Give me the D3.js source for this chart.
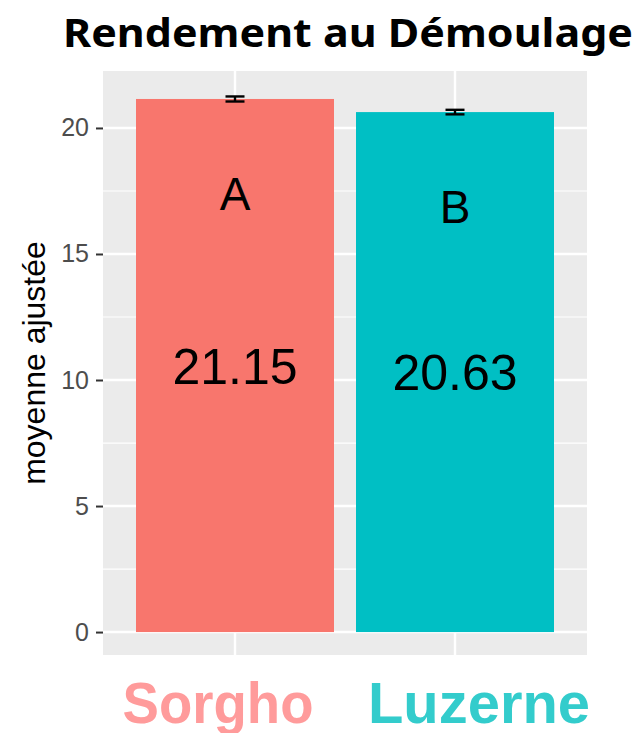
<!DOCTYPE html>
<html>
<head>
<meta charset="utf-8">
<script src="https://cdn.jsdelivr.net/npm/d3@7"></script>
<style>
  body { margin: 0; background: #fff; }
  svg text { font-family: "Liberation Sans", Arial, sans-serif; }
</style>
</head>
<body>
<div id="chart"></div>
<script>
// data
const categories = ["Sorgho", "Luzerne"];
const means = [21.15, 20.63];
const errors = [0.1, 0.09];
const groupLetters = ["A", "B"];
const yTicks = [0, 5, 10, 15, 20];
const yMinorTicks = [2.5, 7.5, 12.5, 17.5];
const barColors = ["#F8766D", "#00BFC4"];
const labelColors = ["#FF9B9B", "#33CCCC"];

const width = 641, height = 733;
const panel = { left: 103, right: 587, top: 71, bottom: 655 };

const svg = d3.select("#chart").append("svg")
    .attr("width", width)
    .attr("height", height);

// scales (ggplot-like expansion)
const y = d3.scaleLinear()
    .domain([-0.91, 22.26])
    .range([panel.bottom, panel.top]);

// discrete x: 0.6 expansion on both sides
const x = d3.scaleLinear()
    .domain([0.4, 2.6])
    .range([panel.left, panel.right]);
const cx = i => x(i + 1);
const barW = x(1.9) - x(1);

// panel background
svg.append("rect")
    .attr("x", panel.left)
    .attr("y", panel.top)
    .attr("width", panel.right - panel.left)
    .attr("height", panel.bottom - panel.top)
    .attr("fill", "#EBEBEB");

// grid
svg.selectAll(".minor")
    .data(yMinorTicks)
    .enter().append("line")
    .attr("x1", panel.left).attr("x2", panel.right)
    .attr("y1", d => y(d)).attr("y2", d => y(d))
    .attr("stroke", "#fff").attr("stroke-width", 1.2);

svg.selectAll(".major")
    .data(yTicks)
    .enter().append("line")
    .attr("x1", panel.left).attr("x2", panel.right)
    .attr("y1", d => y(d)).attr("y2", d => y(d))
    .attr("stroke", "#fff").attr("stroke-width", 2.4);

svg.selectAll(".vgrid")
    .data(categories)
    .enter().append("line")
    .attr("x1", (d, i) => cx(i)).attr("x2", (d, i) => cx(i))
    .attr("y1", panel.top).attr("y2", panel.bottom)
    .attr("stroke", "#fff").attr("stroke-width", 2.4);

// bars
svg.selectAll(".bar")
    .data(means)
    .enter().append("rect")
    .attr("x", (d, i) => cx(i) - barW / 2)
    .attr("y", d => y(d))
    .attr("width", barW)
    .attr("height", d => y(0) - y(d))
    .attr("fill", (d, i) => barColors[i]);

// error bars
const capW = 19;
means.forEach((m, i) => {
    const g = svg.append("g").attr("stroke", "#000").attr("stroke-width", 2.4);
    g.append("line")
        .attr("x1", cx(i)).attr("x2", cx(i))
        .attr("y1", y(m - errors[i])).attr("y2", y(m + errors[i]));
    g.append("line")
        .attr("x1", cx(i) - capW / 2).attr("x2", cx(i) + capW / 2)
        .attr("y1", y(m - errors[i])).attr("y2", y(m - errors[i]));
    g.append("line")
        .attr("x1", cx(i) - capW / 2).attr("x2", cx(i) + capW / 2)
        .attr("y1", y(m + errors[i])).attr("y2", y(m + errors[i]));
});

// letters and values
svg.selectAll(".letter")
    .data(groupLetters)
    .enter().append("text")
    .attr("x", (d, i) => cx(i))
    .attr("y", (d, i) => y(means[i] - 3.75))
    .attr("dy", "0.36em")
    .attr("text-anchor", "middle")
    .attr("font-size", 46)
    .attr("fill", "#000")
    .text(d => d);

svg.selectAll(".value")
    .data(means)
    .enter().append("text")
    .attr("x", (d, i) => cx(i))
    .attr("y", d => y(d / 2))
    .attr("dy", "0.36em")
    .attr("text-anchor", "middle")
    .attr("font-size", 50)
    .attr("fill", "#000")
    .text(d => d.toFixed(2));

// y axis
const yAxis = svg.append("g")
    .attr("transform", `translate(${panel.left},0)`)
    .call(d3.axisLeft(y).tickValues(yTicks).tickSize(7).tickPadding(7));
yAxis.select(".domain").remove();
yAxis.selectAll(".tick line").attr("stroke", "#333").attr("stroke-width", 2);
yAxis.selectAll(".tick text")
    .attr("fill", "#4D4D4D")
    .style("font-size", "25px")
    .style("font-family", "'Liberation Sans', Arial, sans-serif");

svg.append("text")
    .attr("transform", `translate(45,${(panel.top + panel.bottom) / 2}) rotate(-90)`)
    .attr("text-anchor", "middle")
    .style("font-size", "32px")
    .attr("fill", "#000")
    .text("moyenne ajustée");

// category labels
const catX = [218, 479], catW = [191, 222];
svg.selectAll(".cat")
    .data(categories)
    .enter().append("text")
    .attr("x", (d, i) => catX[i])
    .attr("y", 723)
    .attr("text-anchor", "middle")
    .style("font-size", "57px")
    .attr("font-weight", "bold")
    .attr("textLength", (d, i) => catW[i])
    .attr("lengthAdjust", "spacingAndGlyphs")
    .attr("fill", (d, i) => labelColors[i])
    .text(d => d);

// title
svg.append("text")
    .attr("x", 348)
    .attr("y", 47)
    .attr("text-anchor", "middle")
    .style("font-size", "39px")
    .attr("font-weight", "bold")
    .attr("textLength", 570)
    .attr("lengthAdjust", "spacingAndGlyphs")
    .style("font-family", "'Noto Sans', sans-serif")
    .attr("fill", "#000")
    .text("Rendement au Démoulage");
</script>
</body>
</html>
